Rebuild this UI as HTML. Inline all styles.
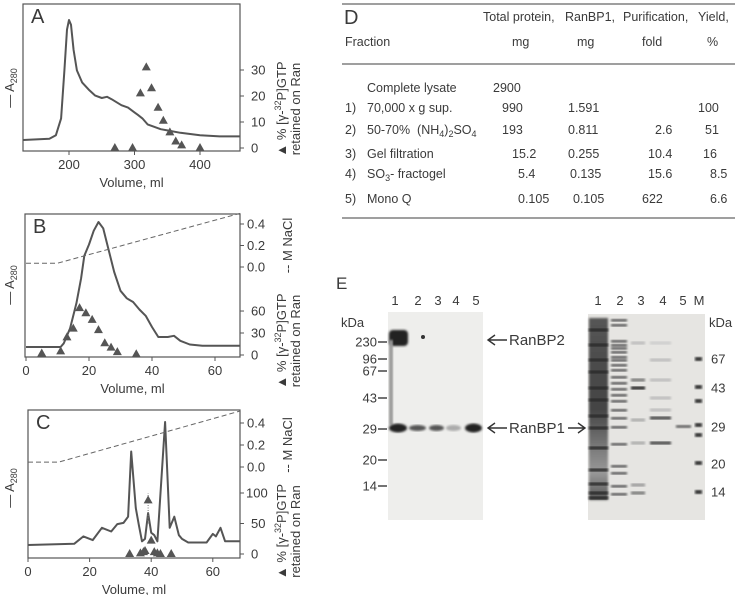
<!DOCTYPE html>
<html><head><meta charset="utf-8"><style>
html,body{margin:0;padding:0;background:#fff;}
svg{display:block;font-family:"Liberation Sans",sans-serif;fill:#333;}
text{fill:#3a3a3a;}
</style></head><body>
<svg id="fig" width="738" height="595" viewBox="0 0 738 595">
<defs>
<filter id="blur1"><feGaussianBlur stdDeviation="1"/></filter>
<filter id="blur2"><feGaussianBlur stdDeviation="2"/></filter>
<linearGradient id="lane1g" x1="0" y1="0" x2="0" y2="1">
<stop offset="0" stop-color="#555"/><stop offset="0.5" stop-color="#444"/><stop offset="0.7" stop-color="#777"/><stop offset="0.85" stop-color="#999"/><stop offset="1" stop-color="#555"/>
</linearGradient>
</defs>
</svg>
<script>
// ---------- Panel A data ----------
const aVol = [130,170,180,188,193,197,200,203,207,212,220,230,240,250,258,265,280,290,300,305,312,320,330,340,350,370,400,430,461];
const aAbs = [0,0.01,0.04,0.18,0.58,0.92,1.0,0.96,0.75,0.58,0.48,0.42,0.37,0.35,0.36,0.34,0.29,0.27,0.23,0.21,0.18,0.13,0.11,0.09,0.08,0.06,0.04,0.03,0.03];
const aTriVol = [270,297,309,318,326,336,344,354,363,372,400];
const aTriVal = [0,0,21,31,23,15.5,10.5,6,2.5,1,0];
const aXTicks = [200,300,400];
const aYTicks = [0,10,20,30];
// ---------- Panel B data ----------
const bVol = [0,11,12,14,16,17.5,18.5,20,21.5,23,24.5,26,28,30,32,34,36,38,40,42,45,47,49,52,56,68];
const bAbs = [0,0,0.03,0.15,0.35,0.55,0.73,0.82,0.93,1.0,0.95,0.8,0.6,0.45,0.39,0.36,0.3,0.25,0.16,0.08,0.08,0.09,0.05,0.02,0.01,0.01];
const bSaltVol = [0,10,68];
const bSalt = [0.035,0.035,0.5];
const bTriVol = [5,11,13,15,17,19,21,23,25,27,29,35];
const bTriVal = [2,5,24,36,64,57,48,34,16,10,4,1];
const bXTicks = [0,20,40,60];
const bSaltTicks = [0.0,0.2,0.4];
const bTriTicks = [0,30,60];
// ---------- Panel C data ----------
const cVol = [0,15,18,21,24,27,29,31,32.5,33.5,35,36,37,38,39,40,41,42,43,44.5,46,47.5,49,50,52,58,60,61,62.5,64,69];
const cAbs = [0,0.01,0.07,0.04,0.14,0.11,0.17,0.18,0.23,0.76,0.3,0.16,0.03,0.05,0.26,0.1,0.08,0.03,0.41,1.0,0.14,0.23,0.08,0.05,0.02,0.02,0.09,0.07,0.14,0.03,0.03];
const cSaltVol = [0,10,69];
const cSalt = [0.045,0.045,0.51];
const cTriVol = [33,36.5,37.5,38,39,40,41,42,43,46.5];
const cTriVal = [0,1,3,5,88,22,3,1,0,0];
const cXTicks = [0,20,40,60];
const cSaltTicks = [0.0,0.2,0.4];
const cTriTicks = [0,50,100];

const NS='http://www.w3.org/2000/svg';
const svg=document.getElementById('fig');
function el(tag,attrs,parent,txt){const e=document.createElementNS(NS,tag);for(const k in attrs)e.setAttribute(k,attrs[k]);if(txt!==undefined)e.textContent=txt;(parent||svg).appendChild(e);return e;}

function panel(o){
  const g=el('g',{});
  
  
  const fr=el('rect',{x:o.L,y:o.T,width:o.R-o.L,height:o.B-o.T,fill:'none',stroke:'#555','stroke-width':1.2},g);
  
  
  const lt=el('text',{x:o.L+8,y:o.T+19,'font-size':20},g,o.id);
  
  
  const X=v=>o.x0+v*o.xs;
  o.xTicks.forEach(t=>{
    el('line',{x1:X(t),x2:X(t),y1:o.B,y2:o.B+4,stroke:'#555'},g);
    const tt=el('text',{x:X(t),y:o.B+18,'font-size':13,'text-anchor':'middle'},g,t);
    
    
  });
  const xt=el('text',{x:(o.L+o.R)/2,y:o.B+36,'font-size':13,'text-anchor':'middle'},g,'Volume, ml');
  
  
  const Ya=a=>o.aBase-a*o.aScale;
  let d='';o.vol.forEach((v,i)=>{d+=(i?'L':'M')+X(v).toFixed(1)+','+Ya(o.abs[i]).toFixed(1);});
  const cp=el('path',{d:d,fill:'none',stroke:'#555','stroke-width':2,'stroke-linejoin':'round'},g);
  
  
  if(o.saltVol){
    const Ys=c=>o.s0-c*o.ss;
    let sd='';o.saltVol.forEach((v,i)=>{sd+=(i?'L':'M')+X(v).toFixed(1)+','+Ys(o.salt[i]).toFixed(1);});
    const sp=el('path',{d:sd,fill:'none',stroke:'#666','stroke-width':1,'stroke-dasharray':'5,3'},g);
    
    
    o.saltTicks.forEach(t=>{
      el('line',{x1:o.R,x2:o.R+4,y1:Ys(t),y2:Ys(t),stroke:'#555'},g);
      const s=el('text',{x:o.R+7,y:Ys(t)+4.5,'font-size':13},g,t.toFixed(1));
      
      
    });
    const st=el('text',{transform:`translate(${o.R+52},${o.s0-o.ss*0.2}) rotate(-90)`,'font-size':13,'text-anchor':'middle'},g,'-- M NaCl');
    
    
  }
  const Yt=p=>o.t0-p*o.ts;
  if(o.errVol!==undefined){el('line',{x1:X(o.errVol),x2:X(o.errVol),y1:Yt(o.errLo),y2:Yt(o.errHi),stroke:'#777','stroke-dasharray':'1,1.5'},g);}
  o.triVol.forEach((v,i)=>{
    const x=X(v),y=Yt(o.triVal[i]);
    const p=el('path',{d:`M${x},${y-5}L${x+4.5},${y+3}L${x-4.5},${y+3}Z`,fill:'#555'},g);
    
    
  });
  o.triTicks.forEach(t=>{
    el('line',{x1:o.R,x2:o.R+4,y1:Yt(t),y2:Yt(t),stroke:'#555'},g);
    const s=el('text',{x:o.R+(t===100?6:11),y:Yt(t)+4.5,'font-size':13},g,t);
    
    
  });
  const tm=(Yt(0)+Yt(o.triTicks[o.triTicks.length-1]))/2+o.tOff;
  const r1=el('text',{transform:`translate(${o.R+46},${tm}) rotate(-90)`,'font-size':13,'text-anchor':'middle'},g);
  r1.innerHTML='▲ % [γ-<tspan font-size="9" dy="-5">32</tspan><tspan dy="5">P]GTP</tspan>';
  
  
  const r2=el('text',{transform:`translate(${o.R+60},${tm}) rotate(-90)`,'font-size':13,'text-anchor':'middle'},g,'retained on Ran');
  
  
  const la=el('text',{transform:`translate(14,${o.aLabY}) rotate(-90)`,'font-size':13,'text-anchor':'middle'},g);
  la.innerHTML='— A<tspan font-size="9" dy="3">280</tspan>';
  
  
}
panel({id:'A',L:23,R:240,T:4,B:151,x0:69-200*0.655,xs:0.655,xTicks:aXTicks,vol:aVol,abs:aAbs,aBase:140,aScale:120,
  triVol:aTriVol,triVal:aTriVal,t0:148,ts:2.6,triTicks:aYTicks,tOff:0,aLabY:88});
panel({id:'B',L:25,R:240,T:214,B:357,x0:26,xs:3.15,xTicks:bXTicks,vol:bVol,abs:bAbs,aBase:347,aScale:125,
  saltVol:bSaltVol,salt:bSalt,s0:267,ss:107.5,saltTicks:bSaltTicks,
  triVol:bTriVol,triVal:bTriVal,t0:355,ts:0.733,triTicks:bTriTicks,tOff:8,aLabY:285});
panel({id:'C',L:28,R:240,T:410,B:558,x0:28,xs:3.08,xTicks:cXTicks,vol:cVol,abs:cAbs,aBase:545,aScale:123,
  saltVol:cSaltVol,salt:cSalt,s0:467,ss:110,saltTicks:cSaltTicks,
  triVol:cTriVol,triVal:cTriVal,t0:554,ts:0.61,triTicks:cTriTicks,tOff:8,aLabY:488,errVol:39,errLo:50,errHi:100});

// ---------- Table D ----------
const tg=el('g',{});


[4,64,218].forEach(y=>el('line',{x1:342,x2:735,y1:y,y2:y,stroke:'#666','stroke-width':1.2},tg));
function T(x,y,s,name,fs){const t=el('text',{x:x,y:y,'font-size':fs||12.5},tg);t.innerHTML=s;return t;}
T(344,24,'D','panel-label-d',20);
T(483,21,'Total protein,','col-total-protein');T(565,21,'RanBP1,','col-ranbp1');T(623,21,'Purification,','col-purification');T(698,21,'Yield,','col-yield');
T(345,46,'Fraction','col-fraction');T(512,46,'mg','unit-mg');T(577,46,'mg','unit-mg2');T(642,46,'fold','unit-fold');T(707,46,'%','unit-pct');
const rowsY=[92,112,134,158,178,203];
const rowNum=['','1)','2)','3)','4)','5)'];
const rowLab=['Complete lysate','70,000 x g sup.','50-70%&#160; (NH<tspan font-size="9" dy="3">4</tspan><tspan dy="-3">)</tspan><tspan font-size="9" dy="3">2</tspan><tspan dy="-3">SO</tspan><tspan font-size="9" dy="3">4</tspan>','Gel filtration','SO<tspan font-size="9" dy="3">3</tspan><tspan dy="-3">- fractogel</tspan>','Mono Q'];
const cells=[[[493,'2900']],[[502,'990'],[568,'1.591'],[698,'100']],[[502,'193'],[568,'0.811'],[655,'2.6'],[705,'51']],
[[512,'15.2'],[568,'0.255'],[648,'10.4'],[703,'16']],[[518,'5.4'],[570,'0.135'],[648,'15.6'],[710,'8.5']],[[518,'0.105'],[573,'0.105'],[642,'622'],[710,'6.6']]];
rowsY.forEach((y,i)=>{if(rowNum[i])T(345,y,rowNum[i],'row-number');T(367,y,rowLab[i],'row-label');cells[i].forEach(c=>T(c[0],y,c[1],'table-cell'));});

// ---------- Panel E gels ----------
const eg=el('g',{});


function E(tag,a,name){const e=el(tag,a,eg);return e;}
E('text',{x:336,y:289,'font-size':17},'panel-label-e').textContent='E';
E('rect',{x:388,y:312,width:95,height:208,fill:'#eeeeec'},'western-blot');
E('rect',{x:588,y:314,width:117,height:206,fill:'#e6e5e2'},'coomassie-gel');
[['1',395],['2',418],['3',438],['4',456],['5',476]].forEach(l=>{const t=E('text',{x:l[1],y:305,'font-size':13,'text-anchor':'middle'},'lane-label');t.textContent=l[0];});
E('text',{x:341,y:327,'font-size':13},'kda-label').textContent='kDa';
[['230',342],['96',359],['67',371],['43',398],['29',429],['20',460],['14',486]].forEach(m=>{
  const t=E('text',{x:377,y:m[1]+4.5,'font-size':13,'text-anchor':'end'},'mw-marker-label');t.textContent=m[0];
  E('line',{x1:378,x2:387,y1:m[1],y2:m[1],stroke:'#444','stroke-width':1.5},'mw-tick');});
E('rect',{x:389,y:330,width:19,height:16,rx:4,fill:'#222',filter:'url(#blur1)'},'ranbp2-band');
E('rect',{x:389,y:340,width:4,height:85,fill:'#999',filter:'url(#blur1)'},'lane1-smear');
E('circle',{cx:423,cy:337,r:2,fill:'#333'},'spot');
[[390,16,'#222'],[410,15,'#555'],[430,13,'#555'],[447,13,'#aaa'],[466,15,'#222']].forEach(b=>E('ellipse',{cx:b[0]+b[1]/2,cy:428,rx:b[1]/2+1,ry:b[2]==='#222'?4.5:3,fill:b[2],filter:'url(#blur1)'},'ranbp1-band'));
// arrows
function arrow(x1,x2,y,name){E('path',{d:`M${x1},${y}L${x2},${y}M${x1+7},${y-5}L${x1},${y}L${x1+7},${y+5}`,fill:'none',stroke:'#333','stroke-width':1.4},name);}
arrow(488,507,340,'ranbp2-arrow');
arrow(488,507,428,'ranbp1-arrow');
E('path',{d:'M568,428L585,428M578,423L585,428L578,433',fill:'none',stroke:'#333','stroke-width':1.4},'ranbp1-arrow-right');
E('text',{x:509,y:345,'font-size':15},'ranbp2-label').textContent='RanBP2';
E('text',{x:509,y:433,'font-size':15},'ranbp1-label').textContent='RanBP1';
// right gel
[['1',598],['2',620],['3',641],['4',663],['5',683],['M',699]].forEach(l=>{const t=E('text',{x:l[1],y:305,'font-size':13,'text-anchor':'middle'},'lane-label');t.textContent=l[0];});
E('text',{x:709,y:327,'font-size':13},'kda-label-right').textContent='kDa';
[['67',359],['43',388],['29',427],['20',464],['14',492]].forEach(m=>{const t=E('text',{x:711,y:m[1]+4.5,'font-size':13},'mw-marker-label');t.textContent=m[0];});
[359,387,401,425,435,463,492].forEach(y=>E('rect',{x:695,y:y-2,width:7,height:4,fill:'#333',filter:'url(#blur1)'},'marker-band'));
E('rect',{x:589,y:318,width:19,height:182,fill:'url(#lane1g)',filter:'url(#blur1)'},'lane1-lysate');
[330,345,360,372,388,400,416,428,448,470,484,493,498].forEach(y=>E('rect',{x:589,y:y-1.5,width:19,height:3,fill:'#2a2a2a',filter:'url(#blur1)'},'lane1-band'));
[320,325,341,345,348,352,357,360,365,370,377,383,389,395,401,410,418,427,444,466,473,486,494].forEach(y=>E('rect',{x:611,y:y-1,width:16,height:2.5,fill:'#555',filter:'url(#blur1)'},'lane2-band'));
[[343,'#bbb'],[380,'#777'],[388,'#222'],[420,'#aaa'],[443,'#aaa'],[485,'#999'],[493,'#777']].forEach(b=>E('rect',{x:631,y:b[0]-1.5,width:14,height:3,fill:b[1],filter:'url(#blur1)'},'lane3-band'));
[[343,'#ccc'],[360,'#bbb'],[380,'#bbb'],[398,'#bbb'],[410,'#bbb'],[418,'#444'],[443,'#444']].forEach(b=>E('rect',{x:650,y:b[0]-1.5,width:21,height:3,fill:b[1],filter:'url(#blur1)'},'lane4-band'));
E('rect',{x:676,y:425,width:15,height:3,fill:'#666',filter:'url(#blur1)'},'lane5-band');
</script>
</body></html>
